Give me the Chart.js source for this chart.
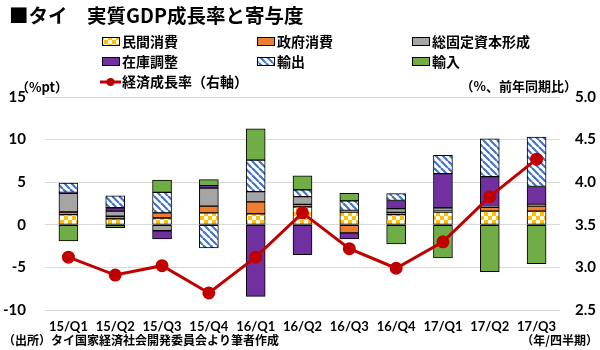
<!DOCTYPE html>
<html>
<head>
<meta charset="utf-8">
<script src="https://cdn.jsdelivr.net/npm/chart.js@4.4.1/dist/chart.umd.min.js"></script>
<style>
  html, body { margin: 0; padding: 0; background: #fff; }
  #wrap { width: 600px; height: 350px; }
</style>
</head>
<body>
<div id="wrap"><canvas id="gdpChart" width="600" height="350"></canvas></div>
<script>
const categories = ['15/Q1', '15/Q2', '15/Q3', '15/Q4', '16/Q1', '16/Q2', '16/Q3', '16/Q4', '17/Q1', '17/Q2', '17/Q3'];

// 寄与度 (%pt)
const privateConsumption = [1.2, 0.7, 0.8, 1.4, 1.3, 2.1, 1.5, 1.2, 1.5, 1.6, 1.6];
const governmentConsumption = [0.3, 0.3, 0.6, 0.8, 1.4, 0.3, -0.95, 0.25, 0.1, 0.45, 0.6];
const fixedCapital = [2.2, 0.6, -0.7, 2.1, 1.2, 0.9, 0.2, 0.45, 0.4, 0.1, 0.2];
const inventory = [0.1, 0.4, -0.95, 0.3, -8.4, -3.5, -0.7, 0.95, 4.0, 3.5, 2.1];
const exports = [1.1, 1.4, 2.4, -2.7, 3.7, 0.8, 1.1, 0.8, 2.15, 4.45, 5.8];
const imports = [-1.9, -0.35, 1.45, 0.7, 3.65, 1.65, 0.9, -2.25, -3.9, -5.5, -4.55];

// 経済成長率 (右軸, %)
const gdpGrowth = [3.12, 2.91, 3.02, 2.7, 3.12, 3.64, 3.22, 2.99, 3.3, 3.83, 4.27];

const leftTicks = [-10, -5, 0, 5, 10, 15];
const rightTicks = [2.5, 3.0, 3.5, 4.0, 4.5, 5.0];

const JP = "'Noto Sans CJK JP', sans-serif";
const NUM = "Lato, 'Noto Sans CJK JP', sans-serif";

// patterns
function checkerPattern() {
    const c = document.createElement('canvas');
    c.width = 8; c.height = 8;
    const g = c.getContext('2d');
    g.fillStyle = '#fff';
    g.fillRect(0, 0, 8, 8);
    g.fillStyle = '#FFC000';
    g.fillRect(0, 0, 4, 4);
    g.fillRect(4, 4, 4, 4);
    return g.createPattern(c, 'repeat');
}

function hatchPattern() {
    const s = 7;
    const c = document.createElement('canvas');
    c.width = s; c.height = s;
    const g = c.getContext('2d');
    g.fillStyle = '#fff';
    g.fillRect(0, 0, s, s);
    g.strokeStyle = '#4472C4';
    g.lineWidth = 2.2;
    for (let k = -1; k <= 1; k++) {
        g.beginPath();
        g.moveTo(k * s, 0);
        g.lineTo(k * s + s, s);
        g.stroke();
    }
    return g.createPattern(c, 'repeat');
}

const checker = checkerPattern();
const hatch = hatchPattern();

const barSeries = [
    { label: '民間消費', data: privateConsumption, fill: checker },
    { label: '政府消費', data: governmentConsumption, fill: '#ED7D31' },
    { label: '総固定資本形成', data: fixedCapital, fill: '#A5A5A5' },
    { label: '在庫調整', data: inventory, fill: '#7030A0' },
    { label: '輸出', data: exports, fill: hatch },
    { label: '輸入', data: imports, fill: '#70AD47' }
];

const datasets = [{
    type: 'line',
    label: '経済成長率（右軸）',
    data: gdpGrowth,
    yAxisID: 'y1',
    borderColor: '#C00000',
    backgroundColor: '#C00000',
    borderWidth: 3,
    pointRadius: 5,
    pointHoverRadius: 5,
    tension: 0,
    order: -1
}];

barSeries.forEach((s) => {
    datasets.push({
        type: 'bar',
        label: s.label,
        data: s.data,
        yAxisID: 'y',
        backgroundColor: s.fill,
        borderColor: '#000',
        borderWidth: 1,
        borderSkipped: false,
        barThickness: 19
    });
});

// title, legend and notes drawn on the canvas
const decorations = {
    id: 'decorations',
    afterDraw(chart) {
        const ctx = chart.ctx;
        ctx.save();
        ctx.fillStyle = '#000';
        ctx.textBaseline = 'middle';

        ctx.font = `bold 19.5px ${JP}`;
        ctx.textAlign = 'left';
        ctx.fillText('■タイ　実質GDP成長率と寄与度', 9, 16);

        const cols = [102, 257, 412];
        const rows = [42, 62, 82];
        ctx.font = `bold 14px ${JP}`;
        barSeries.forEach((s, i) => {
            const x = cols[i % 3];
            const y = rows[Math.floor(i / 3)];
            ctx.fillStyle = s.fill;
            ctx.fillRect(x, y - 5, 18, 9);
            ctx.strokeStyle = '#000';
            ctx.lineWidth = 1;
            ctx.strokeRect(x + 0.5, y - 4.5, 17, 8);
            ctx.fillStyle = '#000';
            ctx.fillText(s.label, x + 20, y);
        });

        // line legend
        ctx.strokeStyle = '#C00000';
        ctx.lineWidth = 3;
        ctx.beginPath();
        ctx.moveTo(100, rows[2]);
        ctx.lineTo(121, rows[2]);
        ctx.stroke();
        ctx.fillStyle = '#C00000';
        ctx.beginPath();
        ctx.arc(110.5, rows[2], 4, 0, Math.PI * 2);
        ctx.fill();
        ctx.fillStyle = '#000';
        ctx.fillText('経済成長率（右軸）', 122, rows[2]);

        // axis units
        ctx.font = `bold 13px ${JP}`;
        ctx.fillText('（%pt）', 16, 87);
        ctx.textAlign = 'right';
        ctx.fillText('（%、前年同期比）', 577, 86);

        // notes
        ctx.font = `bold 12px ${JP}`;
        ctx.fillText('（年/四半期）', 598, 340);
        ctx.textAlign = 'left';
        ctx.fillText('（出所）タイ国家経済社会開発委員会より筆者作成', 3, 340);

        ctx.restore();
    }
};

const ctx = document.getElementById('gdpChart').getContext('2d');
new Chart(ctx, {
    data: {
        labels: categories,
        datasets: datasets
    },
    options: {
        responsive: false,
        animation: false,
        layout: {
            padding: { top: 97, bottom: 0, left: 0, right: 0 }
        },
        plugins: {
            legend: { display: false },
            title: { display: false },
            tooltip: { enabled: false }
        },
        scales: {
            x: {
                stacked: true,
                grid: { display: false },
                border: { display: false },
                ticks: {
                    color: '#000',
                    font: { family: NUM, size: 13, weight: 'bold' },
                    padding: 1,
                    maxRotation: 0,
                    autoSkip: false
                },
                afterFit(scale) { scale.height = 40; }
            },
            y: {
                stacked: true,
                position: 'left',
                min: leftTicks[0],
                max: leftTicks[leftTicks.length - 1],
                afterBuildTicks(scale) { scale.ticks = leftTicks.map(v => ({ value: v })); },
                grid: { color: '#D9D9D9', lineWidth: 1, drawTicks: false },
                border: { display: false },
                ticks: {
                    color: '#000',
                    font: { family: NUM, size: 15, weight: 'bold' },
                    padding: 19
                },
                afterFit(scale) { scale.width = 45; }
            },
            y1: {
                position: 'right',
                min: rightTicks[0],
                max: rightTicks[rightTicks.length - 1],
                afterBuildTicks(scale) { scale.ticks = rightTicks.map(v => ({ value: v })); },
                grid: { display: false, drawTicks: false },
                border: { display: false },
                ticks: {
                    color: '#000',
                    font: { family: NUM, size: 15, weight: 'bold' },
                    padding: 15,
                    callback: (v) => Number(v).toFixed(1)
                },
                afterFit(scale) { scale.width = 40; }
            }
        }
    },
    plugins: [decorations]
});
</script>
</body>
</html>
